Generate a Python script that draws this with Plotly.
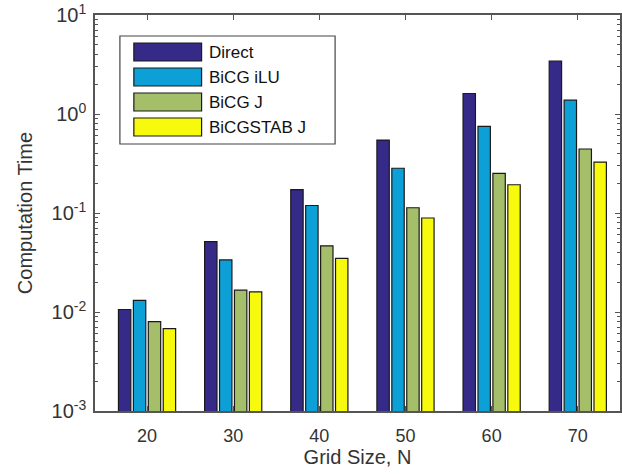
import plotly.graph_objects as go

grid_sizes = [20, 30, 40, 50, 60, 70]
series_names = ["Direct", "BiCG iLU", "BiCG J", "BiCGSTAB J"]
direct = [0.0106, 0.0515, 0.172, 0.545, 1.61, 3.42]
bicg_ilu = [0.0131, 0.0336, 0.119, 0.283, 0.75, 1.38]
bicg_j = [0.0080, 0.0166, 0.0466, 0.113, 0.251, 0.443]
bicgstab_j = [0.0068, 0.0160, 0.0348, 0.089, 0.193, 0.327]
series_values = [direct, bicg_ilu, bicg_j, bicgstab_j]
colors = ["#352a87", "#0ca0d6", "#a5be6a", "#f8fa0d"]
y_tickvals = [1e-3, 1e-2, 1e-1, 1e0, 1e1]
y_ticktext = ["10<sup>-3</sup>", "10<sup>-2</sup>", "10<sup>-1</sup>", "10<sup>0</sup>", "10<sup>1</sup>"]

FONT = "Liberation Sans, Arial, sans-serif"
TXT = "#333333"
AX = "#555555"

fig = go.Figure()
for name, vals, col in zip(series_names, series_values, colors):
    fig.add_trace(go.Bar(
        x=grid_sizes, y=vals, name=name,
        marker=dict(color=col, line=dict(color="#1a1a1a", width=1.2)),
        showlegend=False,
    ))

W, H = 622, 474
ml, mr, mt, mb = 95, 0, 15, 63

fig.update_layout(
    width=W, height=H,
    margin=dict(l=ml, r=mr, t=mt, b=mb),
    paper_bgcolor="white", plot_bgcolor="white",
    barmode="group", bargap=0.307, bargroupgap=0.17,
    font=dict(family=FONT, color=TXT, size=18),
    xaxis=dict(
        range=[13.96, 74.9], tickvals=grid_sizes,
        ticks="inside", ticklen=5, tickcolor=AX,
        showline=True, linecolor=AX, linewidth=1.5, mirror="ticks",
        showgrid=False, zeroline=False,
        tickfont=dict(size=18, color=TXT),
        ticklabelstandoff=8,
        title=dict(text="Grid Size, N", font=dict(size=20, color=TXT), standoff=5),
    ),
    yaxis=dict(
        type="log", range=[-3, 1],
        tickvals=y_tickvals, ticktext=y_ticktext,
        ticks="inside", ticklen=5, tickcolor=AX,
        minor=dict(ticks="inside", ticklen=3, tickcolor=AX, dtick="D1", showgrid=False),
        showline=True, linecolor=AX, linewidth=1.5, mirror="ticks",
        showgrid=False, zeroline=False,
        tickfont=dict(size=20, color=TXT),
        ticklabelstandoff=3,
        title=dict(text="Computation Time", font=dict(size=20, color=TXT), standoff=14),
    ),
)

pw = W - ml - mr
ph = H - mt - mb
def px(x):
    return (x - ml) / pw
def py(y):
    return 1 - (y - mt) / ph

fig.add_shape(type="rect", xref="paper", yref="paper",
              x0=px(120), x1=px(336), y0=py(144), y1=py(36),
              line=dict(color="#444444", width=1.2), fillcolor="white", layer="above")
row_h = 25
for i, (name, col) in enumerate(zip(series_names, colors)):
    yc = 52 + i * row_h
    fig.add_shape(type="rect", xref="paper", yref="paper",
                  x0=px(134), x1=px(202), y0=py(yc + 9), y1=py(yc - 9),
                  line=dict(color="#1a1a1a", width=1.2), fillcolor=col, layer="above")
    fig.add_annotation(xref="paper", yref="paper", x=px(207), y=py(yc),
                       text=name, showarrow=False, xanchor="left", yanchor="middle",
                       font=dict(size=17, color="#111111", family=FONT))

fig.write_html("out.html")
